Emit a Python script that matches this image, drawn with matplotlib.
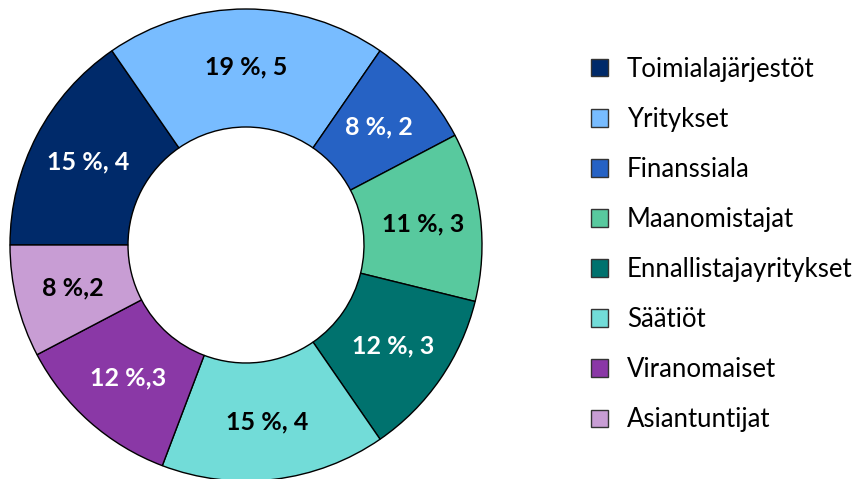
import numpy as np
import matplotlib.pyplot as plt

# Data
categories = ['Toimialajärjestöt', 'Yritykset', 'Finanssiala', 'Maanomistajat',
              'Ennallistajayritykset', 'Säätiöt', 'Viranomaiset', 'Asiantuntijat']
counts = [4, 5, 2, 3, 3, 4, 3, 2]
slice_labels = ['15 %, 4', '19 %, 5', '8 %, 2', '11 %, 3',
                '12 %, 3', '15 %, 4', '12 %,3', '8 %,2']
colors = ['#002a6a', '#78bcff', '#2662c4', '#58c99e',
          '#00726e', '#72dcd8', '#8a38a6', '#c89dd4']
text_colors = ['white', 'black', 'white', 'black',
               'white', 'black', 'white', 'black']

plt.rcParams['font.family'] = ['Lato', 'DejaVu Sans']

W, H = 855, 479
fig = plt.figure(figsize=(W / 100, H / 100), dpi=100)

# donut: centre (246, 245) px from top-left, outer radius 236 px
cx, cy, R = 246, 245, 236
ax = fig.add_axes([(cx - R) / W, (H - cy - R) / H, 2 * R / W, 2 * R / H])

wedges, _ = ax.pie(counts, colors=colors, startangle=180, counterclock=False,
                   radius=1, wedgeprops=dict(width=0.5, edgecolor='black', linewidth=1))
ax.set_xlim(-1, 1)
ax.set_ylim(-1, 1)
ax.set_aspect('auto')
ax.axis('off')

for w, lab, tc in zip(wedges, slice_labels, text_colors):
    ang = np.deg2rad((w.theta1 + w.theta2) / 2)
    r = 0.755
    ax.text(r * np.cos(ang), r * np.sin(ang), lab, ha='center', va='center',
            fontsize=18, fontweight='bold', color=tc)

leg = fig.legend(wedges, categories, loc='upper left',
                 bbox_to_anchor=(578 / W, 1 - 44 / H), frameon=False,
                 fontsize=18.5, handlelength=0.66, handleheight=0.66,
                 handletextpad=0.75, labelspacing=0.975, borderpad=0)
for h in leg.legend_handles:
    h.set_linewidth(1)
    h.set_edgecolor('#333333')

fig.savefig('out.png', dpi=100)
